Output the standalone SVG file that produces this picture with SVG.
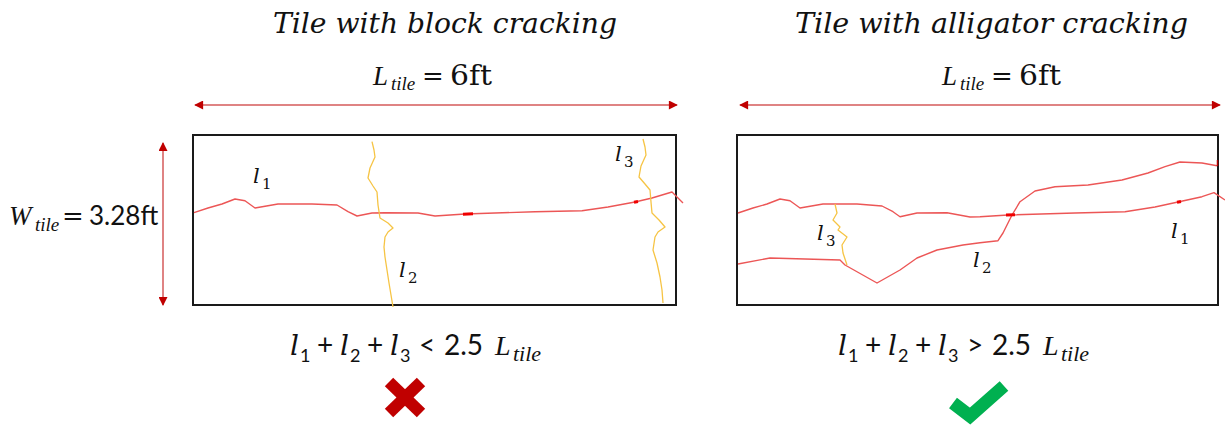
<svg xmlns="http://www.w3.org/2000/svg" width="1225" height="425" viewBox="0 0 1225 425">
<defs>
<marker id="ah" viewBox="0 0 10 10" refX="9" refY="5" markerWidth="10" markerHeight="9" markerUnits="userSpaceOnUse" orient="auto-start-reverse">
<path d="M0,0 L10,5 L0,10 Z" fill="#c00000"/>
</marker>
<style>
.title{font-family:"DejaVu Serif",serif;font-style:italic;font-size:27px;fill:#111}
.it{font-family:"Liberation Serif",serif;font-style:italic;fill:#111}
.rm{font-family:"DejaVu Serif",serif;fill:#111}
.sans{font-family:Lato,"Liberation Sans",sans-serif;fill:#111}
.ml{font-family:"DejaVu Serif",serif;font-style:italic;fill:#111}
.ms{font-family:"DejaVu Serif",serif;fill:#111}
.box{fill:#fff;stroke:#1a1a1a;stroke-width:2}
.dim{stroke:#d45a5a;stroke-width:1.5;fill:none;marker-start:url(#ah);marker-end:url(#ah)}
.crack{fill:none;stroke:#ec5656;stroke-width:1.4;stroke-linejoin:round}
.thick{fill:none;stroke:#f00000;stroke-width:3}
.yel{fill:none;stroke:#f6c444;stroke-width:1.3;stroke-linejoin:round}
</style>
</defs>
<rect width="1225" height="425" fill="#fff"/>

<g id="connectors">
<line class="dim" x1="195" y1="105" x2="677" y2="105"/>
<line class="dim" x1="740" y1="105" x2="1220" y2="105"/>
<line class="dim" x1="163" y1="143" x2="163" y2="305"/>
</g>

<g id="left-panel">
<text class="title" x="273" y="33" textLength="344" lengthAdjust="spacingAndGlyphs">Tile with block cracking</text>
<text x="373" y="85"><tspan class="it" font-size="27">L</tspan><tspan class="it" font-size="19" x="391" y="90">tile</tspan><tspan class="rm" font-size="26" x="422" y="85">=</tspan><tspan class="rm" font-size="27" x="450" y="85" textLength="42" lengthAdjust="spacingAndGlyphs">6ft</tspan></text>
<text x="9" y="225"><tspan class="it" font-size="27">W</tspan><tspan class="it" font-size="19" x="35" y="231">tile</tspan><tspan class="rm" font-size="26" x="62" y="225">=</tspan><tspan class="sans" font-size="26" x="89" y="225">3.28ft</tspan></text>
<rect class="box" x="193" y="135" width="483" height="170"/>
<path class="crack" d="M194,212.7 L208,208 L222,204 L235,199 L245,200.7 L255,208 L278,204 L312,204 L337,205 L348,211.7 L357,216 L372,213 L385,212.7 L418,213 L435,216 L465,214 L535,211.7 L582,210.7 L608,207 L635,202 L652,198 L672,192 L683,203"/>
<path class="thick" d="M463,214.2 L473,213.8 M634,202.3 L638,201.5"/>
<path class="yel" d="M372,141.7 L374,150 L375,157 L370,168 L368,178 L373,186 L377,192 L378,205 L380,218 L388,223 L393,228 L388,232 L385,237 L384,247 L385,257 L387,270 L389,283 L391,295 L393,307"/>
<path class="yel" d="M643,139 L645,147 L646,155 L641,166 L639,177 L645,184 L650,190 L651,202 L652,213 L659,220 L665,227 L658,232 L655,237 L653,250 L657,263 L660,277 L662,290 L663,303"/>
<text x="253" y="183"><tspan class="ml" font-size="21">l</tspan><tspan class="ms" font-size="15" x="262" y="189">1</tspan></text>
<text x="399" y="277"><tspan class="ml" font-size="21">l</tspan><tspan class="ms" font-size="15" x="408" y="283">2</tspan></text>
<text x="615" y="161"><tspan class="ml" font-size="21">l</tspan><tspan class="ms" font-size="15" x="624" y="167">3</tspan></text>
<g id="eq-left">
<text class="ml" font-size="28" x="290" y="355">l</text><text class="sans" font-size="18" x="300" y="362">1</text>
<text class="sans" font-size="28" x="317" y="355">+</text>
<text class="ml" font-size="28" x="340" y="355">l</text><text class="sans" font-size="18" x="350" y="362">2</text>
<text class="sans" font-size="28" x="367" y="355">+</text>
<text class="ml" font-size="28" x="390" y="355">l</text><text class="sans" font-size="18" x="400" y="362">3</text>
<text class="sans" font-size="28" x="419" y="355">&lt;</text>
<text class="sans" font-size="28" x="444" y="355">2.5</text>
<text class="it" font-size="28" x="495" y="355">L</text><text class="it" font-size="22" x="513" y="361">tile</text>
</g>
<g id="cross">
<line x1="389" y1="382" x2="421" y2="413" stroke="#c00000" stroke-width="12"/>
<line x1="421" y1="382" x2="389" y2="413" stroke="#c00000" stroke-width="12"/>
</g>
</g>

<g id="right-panel">
<text class="title" x="795" y="33" textLength="393" lengthAdjust="spacingAndGlyphs">Tile with alligator cracking</text>
<text x="942" y="85"><tspan class="it" font-size="27">L</tspan><tspan class="it" font-size="19" x="960" y="90">tile</tspan><tspan class="rm" font-size="26" x="991" y="85">=</tspan><tspan class="rm" font-size="27" x="1019" y="85" textLength="42" lengthAdjust="spacingAndGlyphs">6ft</tspan></text>
<rect class="box" x="737" y="135" width="481" height="170"/>
<path class="crack" d="M738,213 L753,208 L767,204 L780,199 L790,200.7 L800,208 L823,204 L857,204 L882,206 L893,211.7 L900,216.7 L917,213 L947,212.7 L970,217 L980,216.7 L1008,215 L1075,213 L1125,211.7 L1155,207 L1178,202 L1202,196.7 L1214,192.7 L1225,200"/>
<path class="crack" d="M738,264 L770,258 L840,260 L845,265 L877,283 L900,270 L917,258 L937,250 L963,245 L980,242.7 L998,240.7 L1003,233 L1012,215 L1020,201.7 L1035,191 L1055,186.7 L1088,185 L1122,180 L1148,173 L1165,166.7 L1180,162 L1202,163 L1217,165.7"/>
<path class="thick" d="M1006,215 L1015,214.8 M1177,202.3 L1181,201.5"/>
<path d="M1217.5,160 L1217.5,166" stroke="#b00000" stroke-width="1.5"/>
<path class="yel" d="M835,204 L837,213 L833,220 L840,227 L838,230 L847,237 L842,245 L843,253 L847,265"/>
<text x="817" y="240"><tspan class="ml" font-size="21">l</tspan><tspan class="ms" font-size="15" x="826" y="246">3</tspan></text>
<text x="973" y="267"><tspan class="ml" font-size="21">l</tspan><tspan class="ms" font-size="15" x="982" y="273">2</tspan></text>
<text x="1171" y="238"><tspan class="ml" font-size="21">l</tspan><tspan class="ms" font-size="15" x="1180" y="244">1</tspan></text>
<g id="eq-right">
<text class="ml" font-size="28" x="838" y="355">l</text><text class="sans" font-size="18" x="848" y="362">1</text>
<text class="sans" font-size="28" x="865" y="355">+</text>
<text class="ml" font-size="28" x="888" y="355">l</text><text class="sans" font-size="18" x="898" y="362">2</text>
<text class="sans" font-size="28" x="915" y="355">+</text>
<text class="ml" font-size="28" x="938" y="355">l</text><text class="sans" font-size="18" x="948" y="362">3</text>
<text class="sans" font-size="28" x="967" y="355">&gt;</text>
<text class="sans" font-size="28" x="992" y="355">2.5</text>
<text class="it" font-size="28" x="1043" y="355">L</text><text class="it" font-size="22" x="1061" y="361">tile</text>
</g>
<g id="check">
<polyline points="953,403 970,416 1004,386" fill="none" stroke="#00b050" stroke-width="13" stroke-linejoin="miter"/>
</g>
</g>
</svg>
